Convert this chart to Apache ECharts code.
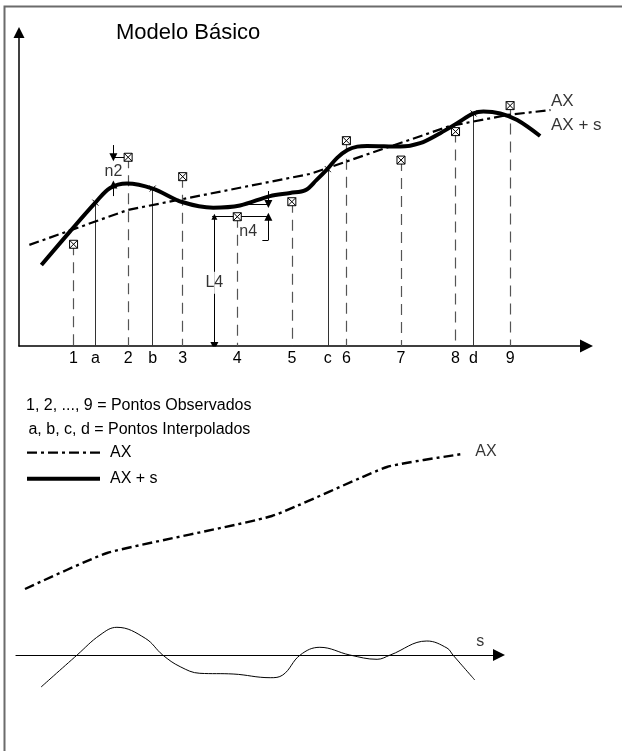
<!DOCTYPE html>
<html><head><meta charset="utf-8">
<script src="https://cdn.jsdelivr.net/npm/echarts@6/dist/echarts.min.js"></script>
<style>html,body{margin:0;padding:0;background:#fff}#c{width:622px;height:751px}</style>
</head><body><div id="c"></div>
<script>
// ---- data (diagram units) ----
// observed points 1..9
const obsLabels = ['1','2','3','4','5','6','7','8','9'];
const obsX = [1,2,3,4,5,6,7,8,9];
const obsY = [3.25,6.03,5.41,4.13,4.61,6.56,5.94,6.85,7.68];
// interpolated points a..d (on AX + s)
const intLabels = ['a','b','c','d'];
const intX = [1.40,2.45,5.66,8.33];
const intY = [4.58,5.03,5.65,7.43];
// AX (top panel)
const axTopX = [0.19,2.0,5.34,7.90,8.95,9.74];
const axTopY = [3.23,4.35,5.50,7.03,7.38,7.54];
// AX + s (top panel)
const axsX = [0.41,0.94,1.40,1.67,1.98,2.45,2.99,3.56,4.05,4.60,4.97,5.25,5.45,5.65,5.83,6.02,6.20,6.38,6.99,7.35,7.72,8.03,8.33,8.51,8.82,9.13,9.55];
const axsY = [2.59,3.67,4.58,5.05,5.19,5.03,4.60,4.42,4.49,4.79,4.89,4.98,5.30,5.65,6.01,6.26,6.37,6.39,6.37,6.48,6.80,7.12,7.43,7.49,7.43,7.22,6.71];
// AX (lower panel)
const axBotX = [0.165,1.67,4.69,6.80,8.18];
const axBotY = [6.6,10.2,13.9,18.8,20.1];
// s (lower panel)
const sX = [0.46,1.12,1.54,1.85,2.37,2.69,3.01,3.37,3.98,4.66,4.89,5.21,5.57,6.12,6.62,6.86,7.53,7.90,8.01,8.41];
const sY = [-3.2,0,2.0,2.77,1.67,0,-1.17,-1.83,-1.9,-2.27,-2.0,0,0.77,0,-0.43,0,1.4,0.7,0,-2.5];
// dimension lines (n2, n4, L4): [x1,y1,x2,y2]
const dimArrows = [[1.73,6.42,1.73,6.03],[1.73,4.79,1.73,5.16],[4.57,4.95,4.57,4.54],[4.57,3.38,4.57,4.13]];
const dimPlain = [[1.73,6.03,2.0,6.03],[3.54,4.13,4.60,4.13],[4.11,4.54,4.60,4.54],[4.46,3.38,4.57,3.38]];
const dimDouble = [[3.58,4.13,3.58,0]];
// text annotations
const topTexts = [['AX',9.74,7.83,'l',17],['AX + s',9.74,7.04,'l',17],['n2',1.73,5.57,'c',16],['n4',4.20,3.65,'c',16],['L4',3.58,2.02,'c',16]];
const botTexts = [['AX',8.41,20.3,'l',16],['s',8.51,1.33,'c',16]];
const titleText = 'Modelo Básico';
const noteTexts = ['1, 2, ..., 9 = Pontos Observados',' a, b, c, d = Pontos Interpolados'];

// ---- chart ----
const FONT = 'Liberation Sans, Arial, Helvetica, sans-serif';
const zip = (xs, ys) => xs.map((x, i) => [x, ys[i]]);
const tickValues = obsX.concat(intX).sort((a, b) => a - b);
const tickLabel = v => {
  let i = obsX.findIndex(x => Math.abs(x - v) < 1e-6);
  if (i >= 0) return obsLabels[i];
  i = intX.findIndex(x => Math.abs(x - v) < 1e-6);
  return i >= 0 ? intLabels[i] : '';
};
const tri = 'path://M0,0L6,12L-6,12Z';
const boxX = 'path://M0,0L10,0L10,10L0,10ZM0,0L10,10M10,0L0,10';
const crossX = 'path://M0,0L10,10M10,0L0,10';
const seg = arr => arr.map(a => ({coords: [[a[0], a[1]], [a[2], a[3]]]}));
const textItems = arr => arr.map(t => ({
  value: [t[1], t[2]],
  label: {show: true, formatter: t[0], position: t[3] === 'l' ? 'right' : 'inside', distance: 0,
    align: t[3] === 'l' ? 'left' : 'center', fontSize: t[4],
    backgroundColor: t[0] === 'L4' ? '#fff' : 'transparent', padding: t[0] === 'L4' ? [3, 1] : 0}
}));
const labelSeriesBase = {
  type: 'scatter', symbol: 'circle', symbolSize: 1, itemStyle: {color: 'transparent'}, silent: true, z: 8,
  label: {show: true, color: '#000', fontSize: 16, fontFamily: FONT}
};
const dashDot = [10, 4, 3, 4];

const chart = echarts.init(document.getElementById('c'));
chart.setOption({
  animation: false,
  backgroundColor: '#fff',
  title: [
    {text: titleText, left: 116, top: 22, padding: 0, textStyle: {fontSize: 22, fontWeight: 'normal', fontFamily: FONT, color: '#000'}},
    {text: noteTexts[0], left: 26, top: 398, padding: 0, textStyle: {fontSize: 16, fontWeight: 'normal', fontFamily: FONT, color: '#000'}},
    {text: noteTexts[1], left: 24, top: 422, padding: 0, textStyle: {fontSize: 16, fontWeight: 'normal', fontFamily: FONT, color: '#000'}}
  ],
  legend: {
    data: [
      {name: 'AX', lineStyle: {color: '#000', width: 2.2, type: dashDot}},
      {name: 'AX + s', lineStyle: {color: '#000', width: 4, type: 'solid'}}
    ],
    orient: 'vertical', left: 25, top: 444.7, itemWidth: 73, itemHeight: 14, itemGap: 10,
    selectedMode: false, padding: 0,
    itemStyle: {color: 'transparent', borderColor: 'transparent', borderWidth: 0, opacity: 0},
    textStyle: {fontSize: 16, fontFamily: FONT, color: '#000', padding: [0, 0, 0, 5]}
  },
  graphic: [{type: 'polyline', silent: true, shape: {points: [[4.5, 751], [4.5, 6.5], [622, 6.5]]}, style: {stroke: '#6b6b6b', lineWidth: 2, fill: null}}],
  grid: [
    {left: 19, top: 32.5, width: 567.5, height: 313.5},
    {left: 16, top: 440, width: 483, height: 260}
  ],
  xAxis: [
    {gridIndex: 0, type: 'value', min: 0, max: 10.4,
      axisLine: {show: true, lineStyle: {color: '#000', width: 1.5}, symbol: ['none', tri], symbolSize: [15, 13]},
      axisTick: {show: false}, splitLine: {show: false},
      axisLabel: {customValues: tickValues, formatter: tickLabel, margin: 5, fontSize: 16, color: '#000', fontFamily: FONT}},
    {gridIndex: 1, type: 'value', min: 0, max: 8.854,
      axisLine: {show: true, onZero: true, lineStyle: {color: '#000', width: 1.2}, symbol: ['none', tri], symbolSize: [15, 12]},
      axisTick: {show: false}, axisLabel: {show: false}, splitLine: {show: false}}
  ],
  yAxis: [
    {gridIndex: 0, type: 'value', min: 0, max: 10.016,
      axisLine: {show: true, lineStyle: {color: '#000', width: 1.5}, symbol: ['none', tri], symbolSize: [15, 11]},
      axisTick: {show: false}, axisLabel: {show: false}, splitLine: {show: false}},
    {gridIndex: 1, type: 'value', min: -4.5, max: 21.5,
      axisLine: {show: false}, axisTick: {show: false}, axisLabel: {show: false}, splitLine: {show: false}}
  ],
  series: [
    {name: 'AX', type: 'line', xAxisIndex: 0, yAxisIndex: 0, data: zip(axTopX, axTopY), symbol: 'none', z: 3,
      lineStyle: {color: '#000', width: 2.2, type: dashDot}, itemStyle: {color: '#000'}},
    {name: 'AX + s', type: 'line', xAxisIndex: 0, yAxisIndex: 0, data: zip(axsX, axsY), symbol: 'none', smooth: 0.35, z: 4,
      lineStyle: {color: '#000', width: 4}, itemStyle: {color: '#000'}},
    {type: 'lines', coordinateSystem: 'cartesian2d', xAxisIndex: 0, yAxisIndex: 0, z: 2, silent: true,
      data: obsX.map((x, i) => ({coords: [[x, obsY[i]], [x, 0]]})),
      lineStyle: {color: '#555', width: 1.2, type: [11, 7], opacity: 1}},
    {type: 'lines', coordinateSystem: 'cartesian2d', xAxisIndex: 0, yAxisIndex: 0, z: 2, silent: true,
      data: intX.map((x, i) => ({coords: [[x, intY[i]], [x, 0]]})),
      lineStyle: {color: '#333', width: 1, opacity: 1}},
    {type: 'scatter', xAxisIndex: 0, yAxisIndex: 0, data: zip(obsX, obsY), symbol: boxX, symbolSize: 8, z: 6, silent: true,
      itemStyle: {color: '#fff', borderColor: '#000', borderWidth: 1, opacity: 1}},
    {type: 'scatter', xAxisIndex: 0, yAxisIndex: 0, data: zip(intX, intY), symbol: crossX, symbolSize: 6, z: 6, silent: true,
      itemStyle: {color: 'transparent', borderColor: '#000', borderWidth: 1, opacity: 1}},
    {type: 'lines', coordinateSystem: 'cartesian2d', xAxisIndex: 0, yAxisIndex: 0, z: 5, silent: true,
      data: seg(dimArrows), symbol: ['none', tri], symbolSize: [6, 8],
      lineStyle: {color: '#000', width: 1, opacity: 1}},
    {type: 'lines', coordinateSystem: 'cartesian2d', xAxisIndex: 0, yAxisIndex: 0, z: 5, silent: true,
      data: seg(dimPlain), lineStyle: {color: '#000', width: 1, opacity: 1}},
    {type: 'lines', coordinateSystem: 'cartesian2d', xAxisIndex: 0, yAxisIndex: 0, z: 5, silent: true,
      data: seg(dimDouble), symbol: [tri, tri], symbolSize: [6, 8],
      lineStyle: {color: '#000', width: 1, opacity: 1}},
    Object.assign({}, labelSeriesBase, {xAxisIndex: 0, yAxisIndex: 0, data: textItems(topTexts)}),
    {name: 'AX', type: 'line', xAxisIndex: 1, yAxisIndex: 1, data: zip(axBotX, axBotY), symbol: 'none', smooth: 0.15, z: 3,
      lineStyle: {color: '#000', width: 2.4, type: dashDot}, itemStyle: {color: '#000'}},
    {name: 's', type: 'line', xAxisIndex: 1, yAxisIndex: 1, data: zip(sX, sY), symbol: 'none', smooth: 0.4, z: 3,
      lineStyle: {color: '#000', width: 1}, itemStyle: {color: '#000'}},
    Object.assign({}, labelSeriesBase, {xAxisIndex: 1, yAxisIndex: 1, data: textItems(botTexts)})
  ]
});
</script></body></html>
